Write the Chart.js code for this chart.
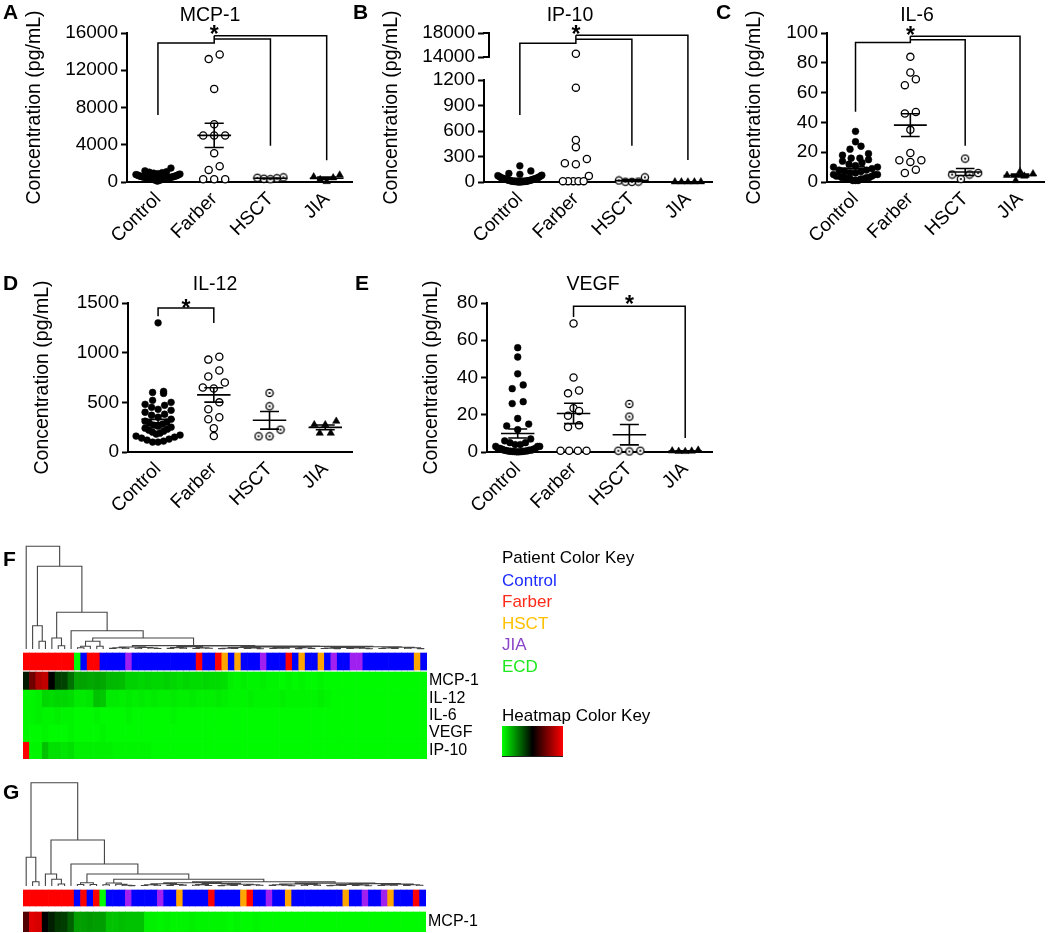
<!DOCTYPE html>
<html><head><meta charset="utf-8">
<script src="https://cdn.jsdelivr.net/npm/chart.js@4.4.1/dist/chart.umd.min.js"></script>
<style>
html,body{margin:0;padding:0;background:#fff;width:1050px;height:933px;overflow:hidden;}
canvas{position:absolute;}
</style></head><body>
<canvas id="cA" width="360" height="260" style="left:0px;top:0px"></canvas>
<canvas id="cB" width="380" height="260" style="left:340px;top:0px"></canvas>
<canvas id="cC" width="370" height="260" style="left:680px;top:0px"></canvas>
<canvas id="cD" width="360" height="250" style="left:0px;top:260px"></canvas>
<canvas id="cE" width="375" height="250" style="left:350px;top:260px"></canvas>
<canvas id="cF" width="1050" height="250" style="left:0px;top:520px"></canvas>
<canvas id="cG" width="1050" height="163" style="left:0px;top:770px"></canvas>
<script>
// ---------------- DATA ----------------
const groups = ['Control', 'Farber', 'HSCT', 'JIA'];

const mcp1Control = [1500,1200,1100,1050,1000,950,900,850,800,780,750,700,680,650,620,600,580,560,540,520,500,480,460,450,430,420,400,380,360,350,330,300,280,260,240,220,200,150,100];
const mcp1Farber  = [13700,13200,10000,6200,5000,5000,5000,3100,1700,1300,300,300,300];
const mcp1HSCT    = [500,450,400,350,300];
const mcp1JIA     = [750,550,450,250,50];

const ip10Control = [190,130,100,90,80,75,70,65,60,55,50,48,45,42,40,38,35,32,30,28,25,22,20,18,16,14,12,10,9,8,7,6,5,5,4,3,2,1,1];
const ip10Farber  = [14550,1110,495,410,270,220,208,72,10,10,10,10,10];
const ip10HSCT    = [55,18,5,3,2];
const ip10JIA     = [3,2,1,1,0.5];

const il6Control = [34,27,24,22,19,18,16,16,15,14,13,12,11,10,10,9,8,8,7,7,6,6,5,5,5,4,4,4,3,3,3,3,2,2,2,2,1,1,1];
const il6Farber  = [84,73.5,69,65,47,46,35,19.5,14.6,14.6,13.5,8.3,6];
const il6HSCT    = [15.7,6,5,5,2];
const il6JIA     = [7,5.5,4.5,4,1];

const il12Control = [1300,610,600,590,520,500,480,470,450,430,420,400,380,370,350,330,310,300,290,280,270,260,250,240,230,220,210,200,190,180,170,160,150,140,130,120,110,100,100];
const il12Farber  = [960,930,820,760,700,650,640,500,430,350,330,240,160];
const il12HSCT    = [594,460,225,158,158];
const il12JIA     = [310,275,275,190,190];

const vegfControl = [56,51,42,36,34,27,26,18,15,14,12,7,6,5,5,4,4,3,3,3,2,2,2,1.5,1.5,1,1,1,0.8,0.6,0.5,0.5,0.4,0.3,0.3,0.2,0.2,0.1,0.1];
const vegfFarber  = [69,40,33,31.5,23.5,22,19.5,14.3,13.4,0.7,0.7,0.7,0.7];
const vegfHSCT    = [25.8,19,0.7,0.3,0.7];
const vegfJIA     = [1,0.6,0.5,0.4,0.3];

// y ticks
const ticksA = [0,4000,8000,12000,16000];
const ticksB = [0,300,600,900,1200,14000,18000];
const ticksC = [0,20,40,60,80,100];
const ticksD = [0,500,1000,1500];
const ticksE = [0,20,40,60,80];

// significance brackets (category index, value)
const bracketsA = [[[0,7190],[0,14920],[1,14920],[1,15710]], [[1,15350],[2,15350],[2,3880]], [[1,15710],[3,15710],[3,2340]]];
const bracketsB = [[[0,788],[0,16283],[1,16283],[1,17610]], [[1,16950],[2,16950],[2,427]], [[1,17610],[3,17610],[3,259]]];
const bracketsC = [[[0,47.2],[0,93.7],[1,93.7],[1,97.8]], [[1,95.5],[2,95.5],[2,24.3]], [[1,97.8],[3,97.8],[3,9]]];
const bracketsD = [[[0,1366],[0,1450],[1,1450],[1,1299]]];
const bracketsE = [[[1,72.5],[1,78.2],[3,78.2],[3,7.5]]];
const starsA = [[1,16430]], starsB = [[1,18670]], starsC = [[1,102]], starsD = [[0.5,1500]], starsE = [[2,82]];

// heatmap: patient order (C=Control F=Farber H=HSCT J=JIA E=ECD)
const patientOrderF = ("FFFFFFFF"+"E"+"C"+"FF"+"CCCC"+"J"+"CCCCCCCCCC"+"F"+"CC"+"F"+"H"+"C"+"H"+"CCC"+"J"+"CCC"+"F"+"C"+"H"+"CC"+"H"+"C"+"J"+"CC"+"JJ"+"CCCCCCCC"+"H"+"C").split('');
const patientOrderG = ("FFFFFFFF"+"C"+"F"+"C"+"F"+"E"+"CCC"+"J"+"CCCC"+"J"+"CC"+"H"+"CCCC"+"F"+"CCCC"+"H"+"F"+"CC"+"J"+"CC"+"H"+"CCCCCCCC"+"H"+"CC"+"J"+"CC"+"J"+"H"+"CCC"+"F"+"C").split('');
const heatRowLabelsF = ['MCP-1','IL-12','IL-6','VEGF','IP-10'];
const heatRowLabelsG = ['MCP-1'];
// scaled values: 0 = green, 0.5 = black, 1 = red
const heatF_MCP1 = [0.45,0.72,0.85,0.88,0.5,0.38,0.37,0.28, 0.18,0.18,0.17,0.18,0.17, 0.14,0.14,0.13, 0.09,0.09,0.08,0.09,0.08,0.08,0.09,0.08,0.07,0.08,0.07,0.07,0.08,0.07,0.07,0.06, 0.03,0.02,0.03,0.02,0.02,0.03,0.02,0.02,0.01,0.02,0.01,0.02,0.01,0.01,0.02,0.01,0.01,0.01,0.01,0.01,0.01,0.01,0.01,0.01,0.01,0.01,0.01,0.01,0.01,0.01,0.01];
const heatF_IL12 = [0.02,0.02,0.03, 0.08,0.07,0.08,0.08,0.07, 0.04,0.04,0.05, 0.12,0.11, 0.04,0.04,0.03,0.04,0.03,0.04,0.03,0.04,0.03,0.03,0.04,0.03,0.03,0.04,0.03,0.03,0.03,0.04,0.03, 0.02,0.02,0.02,0.03,0.02,0.02,0.02,0.02,0.03,0.02,0.02,0.02,0.02,0.02,0.03,0.02, 0.01,0.01,0.01,0.01,0.01,0.01,0.01,0.01,0.01,0.01,0.01,0.01,0.01,0.01,0.01];
const heatF_IL6 = [0.02,0.02,0.03,0.02,0.02,0.03,0.02,0.02, 0.01,0.01,0.01,0.02,0.01,0.01,0.01,0.01,0.02,0.01, 0.01,0.01,0.01,0.01,0.01,0.02,0.01,0.01,0.01,0.01, 0.01,0.01,0.01,0.01,0.01,0.01,0.01,0.01,0.01,0.01, 0.01,0.01,0.01,0.01,0.01,0.01,0.01,0.01,0.01,0.01, 0.01,0.01,0.01,0.01,0.01,0.01,0.01,0.01,0.01,0.01, 0.01,0.01,0.01,0.01,0.01];
const heatF_VEGF = [0.02,0.01,0.01,0.02,0.01,0.01,0.01,0.02,0.01,0.01, 0.01,0.01,0.02,0.01,0.01,0.01,0.01,0.01,0.01,0.01, 0.01,0.01,0.01,0.01,0.01,0.01,0.01,0.01,0.01,0.01, 0.01,0.01,0.01,0.01,0.01,0.01,0.01,0.01,0.01,0.01, 0.01,0.01,0.01,0.01,0.01,0.01,0.01,0.01,0.01,0.01, 0.01,0.01,0.01,0.01,0.01,0.01,0.01,0.01,0.01,0.01, 0.01,0.01,0.01];
const heatF_IP10 = [1.0,0.02,0.02,0.12,0.06,0.06,0.05,0.06, 0.03,0.03,0.03,0.03,0.03,0.03,0.02,0.02,0.02,0.02,0.02,0.02, 0.01,0.01,0.01,0.01,0.01,0.01,0.01,0.01,0.01,0.01, 0.01,0.01,0.01,0.01,0.01,0.01,0.01,0.01,0.01,0.01, 0.01,0.01,0.01,0.01,0.01,0.01,0.01,0.01,0.01,0.01, 0.01,0.01,0.01,0.01,0.01,0.01,0.01,0.01,0.01,0.01, 0.01,0.01,0.01];
const heatG_MCP1 = [0.66,0.94,0.92,0.5,0.44,0.39,0.38,0.31, 0.19,0.19,0.2,0.19,0.19, 0.12,0.12,0.13,0.12,0.12,0.12, 0.03,0.03,0.02,0.03,0.02,0.02,0.02,0.03,0.02,0.02, 0.02,0.02,0.02,0.01,0.02,0.01,0.01,0.02,0.01,0.01, 0.01,0.01,0.01,0.01,0.01,0.01,0.01,0.01,0.01,0.01, 0.01,0.01,0.01,0.01,0.01,0.01,0.01,0.01,0.01,0.01, 0.01,0.01,0.01,0.01];

// dendrograms: [mergeHeight, left, right], 0 = leaf (leaves in display order)
const dF_H1 = [2.0,[1.2,[0.6,0,0],[0.8,0,0]],[1.5,[0.7,0,0],[1.0,0,[0.5,0,0]]]];
const dF_H2a = [2.2,[1.4,[0.6,0,0],[0.9,0,0]],[1.1,[0.5,0,0],[0.7,0,0]]];
const dF_P = [2.0,[1.5,[0.8,[0.4,0,0],[0.5,0,0]],[1.0,[0.6,0,0],[0.3,0,0]]],[1.7,[0.9,[0.5,0,0],[0.7,0,0]],[1.2,[0.4,0,0],[0.6,0,0]]]];
const dF_Q = [2.3,[1.6,[0.9,[0.5,0,0],[0.4,0,0]],[1.1,[0.6,0,0],[0.8,0,[0.3,0,0]]]],[1.8,[1.0,[0.5,0,0],[0.6,0,0]],[1.3,[0.7,0,0],[0.4,0,0]]]];
const dendroF = [102.7,0,[82.7,[23.3,0,[7.7,0,0]],[36.7,[11,0,[3.3,0,0]],[18.3,0,[11,[7.7,[2.7,[1.3,0,0],0],[2.7,0,0]],[3.4,dF_H1,[3.0,dF_H2a,[2.6,dF_P,dF_Q]]]]]]]];
const dG_Sb1 = [3.0,[1.2,0,0],[1.8,0,[0.8,0,[0.4,0,0]]]];
const dG_Sb2a = [3.3,[2.2,[1.2,[0.5,0,0],[0.7,0,0]],[1.5,[0.6,0,0],[0.9,0,0]]],[2.6,[1.4,[0.8,0,0],[0.5,0,0]],[1.8,[1.0,[0.4,0,0],[0.6,0,0]],[1.2,[0.5,0,0],[0.7,0,0]]]]];
const dG_Sb2b = [2.9,[2.0,[1.3,[0.6,0,0],[0.8,0,[0.3,0,0]]],[1.6,[0.7,0,0],[0.9,0,0]]],[2.4,[1.5,[0.8,[0.4,0,0],[0.5,0,0]],[1.0,[0.6,0,0],[0.3,0,0]]],[1.9,[1.1,[0.5,0,0],[0.7,0,0]],[1.3,[0.6,0,0],[0.8,0,0]]]]];
const dendroG = [103.3,[28.7,0,[4.3,0,0]],[46,[12,0,[6.7,0,[2.0,0,0]]],[22,0,[12,[3.3,[1.5,0,0],[1.5,0,0]],[6.7,dG_Sb1,[4.3,dG_Sb2a,dG_Sb2b]]]]]];

const legendItems = ['Control','Farber','HSCT','JIA','ECD'];

// ---------------- STYLE ----------------
const FONT = "'Liberation Sans', Arial, Helvetica, sans-serif";
Chart.defaults.font.family = FONT;
Chart.defaults.font.size = 19;
Chart.defaults.color = '#000';
Chart.defaults.animation = false;
Chart.defaults.events = [];
Chart.defaults.plugins.legend.display = false;
Chart.defaults.plugins.tooltip.enabled = false;

const STRIP_COLORS = {C:'#0000ff', F:'#ff0000', H:'#ffa500', J:'#a020f0', E:'#00ff00'};
const LEGEND_COLORS = ['#1c2cff','#ff2a1a','#ffc000','#8b45c8','#1ee81e'];

function heatColor(v) {
  if (v < 0.5) return 'rgb(0,' + Math.round(255 * (1 - 2 * v)) + ',0)';
  return 'rgb(' + Math.round(255 * (2 * v - 1)) + ',0,0)';
}

function hsctSymbol() {
  const c = document.createElement('canvas'); c.width = 10; c.height = 10;
  const g = c.getContext('2d');
  g.beginPath(); g.arc(5, 5, 3.6, 0, Math.PI * 2); g.fillStyle = '#fff'; g.fill();
  g.lineWidth = 1.3; g.strokeStyle = '#000'; g.stroke();
  g.beginPath(); g.arc(5, 5, 1.1, 0, Math.PI * 2); g.fillStyle = '#000'; g.fill();
  return c;
}
const groupStyles = [
  {pointStyle:'circle', pointRadius:3.4, pointBackgroundColor:'#000', pointBorderColor:'#000', pointBorderWidth:0.5},
  {pointStyle:'circle', pointRadius:3.6, pointBackgroundColor:'#fff', pointBorderColor:'#000', pointBorderWidth:1.3},
  {pointStyle:hsctSymbol(), pointRadius:4},
  {pointStyle:'triangle', pointRadius:4.3, pointBackgroundColor:'#000', pointBorderColor:'#000', pointBorderWidth:0.5}
];

// GraphPad-style column scatter: points grouped in rows, placed from the centre outwards
const swarmPlugin = {
  id: 'swarm',
  afterDatasetsUpdate(chart) {
    const xs = chart.scales.x;
    chart.data.datasets.forEach((ds, di) => {
      if (!ds.swarm) return;
      const meta = chart.getDatasetMeta(di);
      const cx = xs.getPixelForValue(ds.group);
      const els = meta.data.slice().sort((a, b) => b.y - a.y);
      const d = 7;
      const rows = []; let cur = null;
      els.forEach(e => {
        if (!cur || Math.abs(e.y - cur.y0) > d) { cur = {y0: e.y, items: []}; rows.push(cur); }
        cur.items.push(e);
      });
      rows.forEach(r => {
        const n = r.items.length;
        const maxW = n > 8 ? 44 : 26;
        const sp = n > 1 ? Math.min(11, maxW / (n - 1)) : 0;
        const slots = [];
        for (let k = 0; k < n; k++) slots.push(k - (n - 1) / 2);
        slots.sort((a, b) => (Math.abs(a) - Math.abs(b)) || (a - b));
        r.items.forEach((e, k) => { e.x = cx + slots[k] * sp; });
      });
    });
  }
};

const overlayPlugin = {
  id: 'overlay',
  afterDraw(chart, args, o) {
    const ctx = chart.ctx;
    const ys = chart.scales.y, xs = chart.scales.x;
    if (o.broken) {
      const L = chart.chartArea.left;
      ctx.save(); ctx.strokeStyle = '#000'; ctx.lineWidth = 2;
      ctx.beginPath(); ctx.moveTo(L, ys.getPixelForValue(0) + 1); ctx.lineTo(L, ys.getPixelForValue(o.broken[0]) - 1); ctx.stroke();
      const y1 = ys.getPixelForValue(o.broken[1]), y2 = ys.getPixelForValue(o.broken[2]);
      ctx.beginPath(); ctx.moveTo(L - 1, y1); ctx.lineTo(L + 5, y1); ctx.lineTo(L + 5, y2); ctx.lineTo(L - 1, y2); ctx.stroke();
      ctx.restore();
    }
    if (o.stars) {
      o.stars.forEach(s => {
        ctx.save(); ctx.font = 'bold 23px ' + FONT; ctx.fillStyle = '#000';
        ctx.textAlign = 'center'; ctx.textBaseline = 'alphabetic';
        ctx.fillText('*', xs.getPixelForValue(s[0]), ys.getPixelForValue(s[1]) + 13);
        ctx.restore();
      });
    }
    if (o.gradient) {
      const g = o.gradient;
      const x = g.x - o.ox, y = g.y - o.oy;
      const grd = ctx.createLinearGradient(x, 0, x + g.w, 0);
      grd.addColorStop(0, '#00ff00'); grd.addColorStop(0.5, '#000000'); grd.addColorStop(1, '#ff0000');
      ctx.save(); ctx.fillStyle = grd; ctx.fillRect(x, y, g.w, g.h);
      ctx.strokeStyle = '#222'; ctx.lineWidth = 1;
      ctx.beginPath(); ctx.moveTo(x, y + g.h + 0.5); ctx.lineTo(x + g.w, y + g.h + 0.5); ctx.stroke();
      ctx.restore();
    }
    (o.texts || []).forEach(t => {
      ctx.save();
      ctx.font = t.font; ctx.fillStyle = t.color || '#000';
      ctx.textAlign = t.align || 'left'; ctx.textBaseline = t.baseline || 'alphabetic';
      ctx.fillText(t.text, t.x - o.ox, t.y - o.oy);
      ctx.restore();
    });
  }
};

function makePanel(p) {
  const el = document.getElementById(p.id);
  const ox = parseFloat(el.style.left), oy = parseFloat(el.style.top);
  const W = el.width, H = el.height;
  const T = p.transform || (v => v);
  const aL = p.area[0] - ox, aT = p.area[1] - oy, aR = p.area[2] - ox, aB = p.area[3] - oy;
  const datasets = [];
  p.series.forEach((vals, gi) => {
    datasets.push(Object.assign({type:'scatter', swarm:true, group:gi, order:1, clip:false,
      data: vals.map(v => ({x: gi, y: T(v)}))}, groupStyles[gi]));
  });
  const stat = [];
  p.series.forEach((vals, gi) => {
    if (p.noStats && p.noStats.indexOf(gi) >= 0) return;
    const n = vals.length;
    const m = vals.reduce((a, b) => a + b, 0) / n;
    const se = Math.sqrt(vals.reduce((a, b) => a + (b - m) * (b - m), 0) / (n - 1)) / Math.sqrt(n);
    const lo = Math.max(0, m - se), hi = m + se;
    stat.push({x:gi-0.3,y:T(m)},{x:gi+0.3,y:T(m)},{x:gi,y:null},
              {x:gi-0.17,y:T(hi)},{x:gi+0.17,y:T(hi)},{x:gi,y:null},
              {x:gi-0.17,y:T(lo)},{x:gi+0.17,y:T(lo)},{x:gi,y:null},
              {x:gi,y:T(lo)},{x:gi,y:T(hi)},{x:gi,y:null});
  });
  datasets.push({type:'line', data:stat, borderColor:'#000', borderWidth:1.6, pointRadius:0, spanGaps:false, order:-1, clip:false});
  const br = [];
  p.brackets.forEach(b => { b.forEach(pt => br.push({x: pt[0], y: T(pt[1])})); br.push({x: 0, y: null}); });
  datasets.push({type:'line', data:br, borderColor:'#000', borderWidth:1.5, pointRadius:0, spanGaps:false, order:-2, clip:false});

  const ticks = p.ticks;
  new Chart(el, {
    type: 'scatter',
    data: {datasets},
    options: {
      responsive: false,
      layout: {padding: {left: 0, top: aT, right: W - aR, bottom: 0}},
      scales: {
        x: {
          type: 'linear', min: p.xr[0], max: p.xr[1], offset: false,
          afterBuildTicks: s => { s.ticks = groups.map((g, i) => ({value: i})); },
          ticks: {callback: (v) => groups[Math.round(v)], minRotation: 45, maxRotation: 45, autoSkip: false, padding: 6, font: {size: 19}},
          grid: {display: false, drawTicks: false},
          border: {display: true, width: 2, color: '#000'},
          afterFit: s => { s.height = H - aB; }
        },
        y: {
          type: 'linear', min: 0, max: T(ticks[ticks.length - 1]),
          afterBuildTicks: s => { s.ticks = ticks.map(v => ({value: T(v)})); },
          ticks: {callback: (v, i) => String(ticks[i]), padding: 3, autoSkip: false, font: {size: 19}},
          grid: {display: true, drawOnChartArea: false, drawTicks: true, tickLength: 6, tickWidth: 2, tickColor: '#000'},
          border: {display: !p.broken, width: 2, color: '#000'},
          title: {display: true, text: 'Concentration (pg/mL)', font: {size: 19.5}, padding: {top: p.yTitleX - ox - 11.7, bottom: 0}},
          afterFit: s => { s.width = aL; }
        }
      },
      plugins: {
        overlay: {
          ox, oy,
          broken: p.broken ? p.broken.map(T) : null,
          stars: p.stars.map(s => [s[0], T(s[1])]),
          texts: [
            {text: p.letter, x: p.letterPos[0], y: p.letterPos[1], font: 'bold 21px ' + FONT},
            {text: p.title, x: p.titlePos[0], y: p.titlePos[1], font: '19.5px ' + FONT, align: 'center'}
          ]
        }
      }
    },
    plugins: [swarmPlugin, overlayPlugin]
  });
}

// broken axis transform for IP-10
const B_LOW = 1200, B_HIGH = 14000, B_GAP = 270.6, B_K = 282.4 / 4000;
function tB(v) {
  if (v === null) return null;
  if (v <= B_LOW) return v;
  if (v < B_HIGH) return B_LOW + (v - B_LOW) / (B_HIGH - B_LOW) * B_GAP;
  return B_LOW + B_GAP + (v - B_HIGH) * B_K;
}

makePanel({id:'cA', area:[127,33,352,182], xr:[-0.55,3.45], series:[mcp1Control,mcp1Farber,mcp1HSCT,mcp1JIA],
  ticks:ticksA, brackets:bracketsA, stars:starsA, yTitleX:35, letter:'A', letterPos:[3,19], title:'MCP-1', titlePos:[210,21]});
makePanel({id:'cB', area:[484,33,712,182], xr:[-0.64,3.43], series:[ip10Control,ip10Farber,ip10HSCT,ip10JIA],
  ticks:ticksB, transform:tB, broken:[1200,14000,18000], noStats:[1], brackets:bracketsB, stars:starsB, yTitleX:392, letter:'B', letterPos:[353,19], title:'IP-10', titlePos:[570,21]});
makePanel({id:'cC', area:[827,33,1048,182], xr:[-0.52,3.45], series:[il6Control,il6Farber,il6HSCT,il6JIA],
  ticks:ticksC, brackets:bracketsC, stars:starsC, yTitleX:755, letter:'C', letterPos:[716,19], title:'IL-6', titlePos:[917,21]});
makePanel({id:'cD', area:[128,303,352,452], xr:[-0.54,3.48], series:[il12Control,il12Farber,il12HSCT,il12JIA],
  ticks:ticksD, brackets:bracketsD, stars:starsD, yTitleX:43, letter:'D', letterPos:[3,290], title:'IL-12', titlePos:[215,290]});
makePanel({id:'cE', area:[487,303,712,452], xr:[-0.55,3.48], series:[vegfControl,vegfFarber,vegfHSCT,vegfJIA],
  ticks:ticksE, brackets:bracketsE, stars:starsE, yTitleX:432, letter:'E', letterPos:[355,290], title:'VEGF', titlePos:[593,290]});

function buildDendro(tree, base) {
  const pts = []; let leaf = 0;
  function walk(n) {
    if (!Array.isArray(n)) { return {x: leaf++, h: 0}; }
    const L = walk(n[1]), R = walk(n[2]);
    pts.push({x:L.x,y:base+L.h},{x:L.x,y:base+n[0]},{x:R.x,y:base+n[0]},{x:R.x,y:base+R.h},{x:R.x,y:null});
    return {x: (L.x + R.x) / 2, h: n[0]};
  }
  walk(tree);
  return pts;
}

function makeHeat(h) {
  const el = document.getElementById(h.id);
  const ox = parseFloat(el.style.left), oy = parseFloat(el.style.top);
  const W = el.width, H = el.height;
  const aL = h.area[0] - ox, aT = h.area[1] - oy, aR = h.area[2] - ox, aB = h.area[3] - oy;
  const n = h.order.length;
  const labels = h.order.map((g, i) => String(i + 1));
  const barOpts = {type:'bar', borderWidth:0, barPercentage:1, categoryPercentage:1, grouped:false};
  const datasets = [];
  datasets.push(Object.assign({data: h.order.map(() => [h.strip[0], h.strip[1]]), backgroundColor: h.order.map(g => STRIP_COLORS[g])}, barOpts));
  const texts = [{text: h.letter, x: 3, y: h.letterY, font: 'bold 21px ' + FONT}];
  h.rows.forEach((vals, r) => {
    const y1 = h.heatTop - r * h.rowH, y0 = y1 - h.rowH;
    datasets.push(Object.assign({data: vals.map(() => [y0, y1]), backgroundColor: vals.map(heatColor)}, barOpts));
    texts.push({text: h.rowLabels[r], x: h.area[2] + 2, y: h.area[3] - (y0 + y1) / 2, font: '16px ' + FONT, baseline: 'middle'});
  });
  datasets.push({type:'line', xAxisID:'xd', data: buildDendro(h.tree, h.dendBase), borderColor:'#444', borderWidth:1.1,
    pointRadius:0, spanGaps:false, clip:false});
  (h.extraTexts || []).forEach(t => texts.push(t));
  new Chart(el, {
    type: 'bar',
    data: {labels, datasets},
    options: {
      responsive: false,
      layout: {padding: {left: aL, top: aT, right: W - aR, bottom: H - aB}},
      scales: {
        x: {type:'category', display:false, offset:true},
        xd: {type:'linear', display:false, offset:false, min:-0.5, max:n - 0.5},
        y: {type:'linear', display:false, min:0, max:aB - aT}
      },
      plugins: {overlay: {ox, oy, texts, gradient: h.gradient || null}}
    },
    plugins: [overlayPlugin]
  });
}

const legendTexts = [{text:'Patient Color Key', x:502, y:558, font:'17px ' + FONT, baseline:'middle'}];
legendItems.forEach((t, i) => legendTexts.push({text:t, x:502, y:581 + i * 21.6, font:'17px ' + FONT, baseline:'middle', color:LEGEND_COLORS[i]}));
legendTexts.push({text:'Heatmap Color Key', x:502, y:716, font:'17px ' + FONT, baseline:'middle'});

makeHeat({id:'cF', area:[23,547,427,759], order:patientOrderF, strip:[89,106], heatTop:87, rowH:17.4,
  rows:[heatF_MCP1, heatF_IL12, heatF_IL6, heatF_VEGF, heatF_IP10], rowLabels:heatRowLabelsF,
  tree:dendroF, dendBase:110, letter:'F', letterY:566, extraTexts:legendTexts,
  gradient:{x:502, y:726, w:61, h:30}});
makeHeat({id:'cG', area:[23,783,426,932], order:patientOrderG, strip:[26,42], heatTop:20, rowH:20,
  rows:[heatG_MCP1], rowLabels:heatRowLabelsG, tree:dendroG, dendBase:46, letter:'G', letterY:799});
</script>
</body></html>
